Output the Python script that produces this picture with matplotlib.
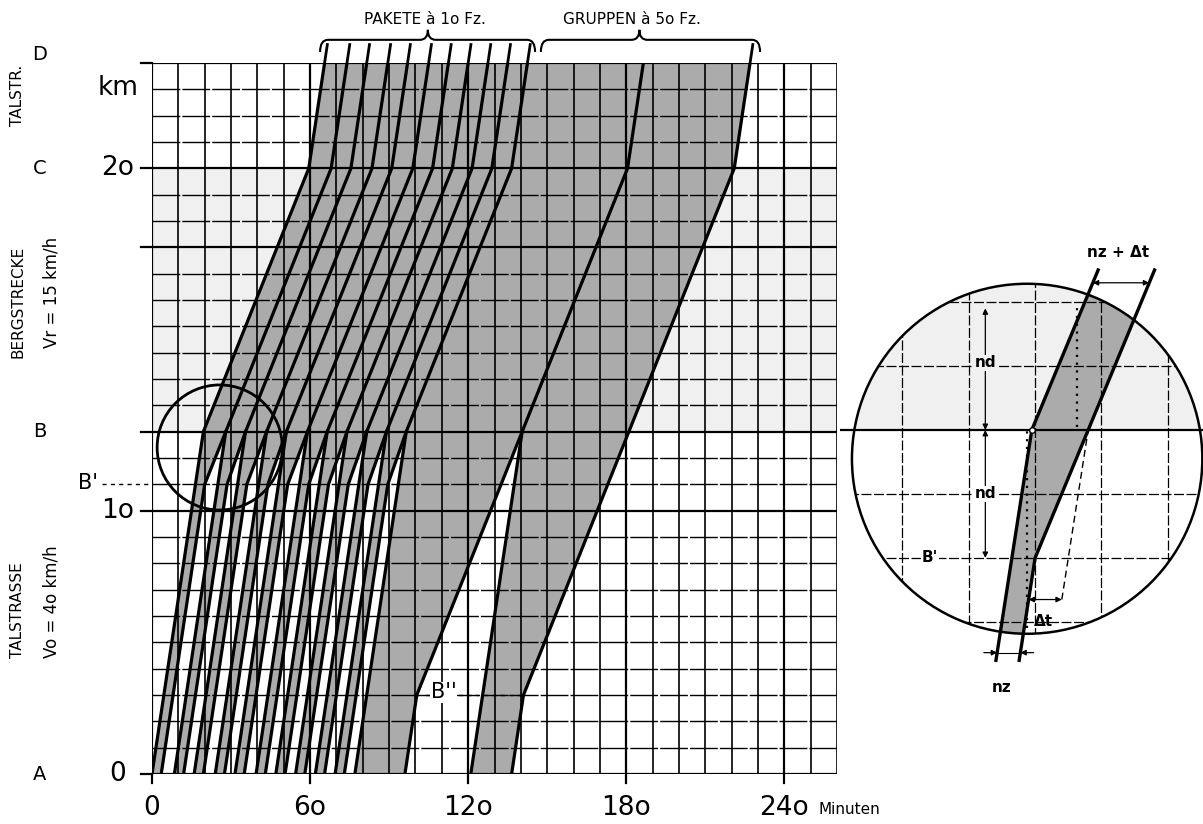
import numpy as np
import matplotlib.pyplot as plt
from matplotlib.patches import Ellipse, Polygon
from matplotlib.path import Path
import matplotlib.patches as mpatches

plt.rcParams['font.family'] = ['DejaVu Sans']

# sections of the road (km, as drawn on the grid)
Y_A, Y_B2, Y_B1, Y_B, Y_C, Y_D = 0, 3, 11, 13, 23, 27
PACE_TAL = 1.5    # min per km, Vo = 40 km/h
PACE_BERG = 4.0   # min per km, Vr = 15 km/h

# departure of the first car of each packet (min, at A)
packet_start = [0, 8.5, 16, 24, 31.5, 39.5, 47, 54.5, 62, 69.5]
packet_width = 3.5          # nz at A
# groups of 50 vehicles: first and last car at A
group_start = [77, 121]
group_end = [96, 136.5]

x_ticks = [0, 60, 120, 180, 240]
x_labels = ['0', '6o', '12o', '18o', '24o']
y_ticks = [0, 10, 23]
y_labels = ['0', '1o', '2o']
sections = ['A', 'B', 'C', 'D']
section_y = [Y_A, Y_B, Y_C, Y_D]

W, H = 1203, 824
GRAY = '#ababab'
STIP = '#f0f0f0'


def lead_path(t0, yb=Y_B):
    t1 = t0 + PACE_TAL * yb
    t2 = t1 + PACE_BERG * (Y_C - yb)
    t3 = t2 + PACE_TAL * (Y_D - Y_C)
    return [t0, t1, t2, t3], [0, yb, Y_C, Y_D]


def tail_path(t0, yb, t_merge):
    # runs with Vo until the queue is reached, then onto the next leader at B
    return [t0, t0 + PACE_TAL * yb, t_merge], [0, yb, Y_B]


leads = packet_start + group_start
lead_paths = [lead_path(t) for t in leads]
tails = []
for k, t in enumerate(packet_start):
    tails.append(tail_path(t + packet_width, Y_B1, lead_paths[k + 1][0][1]))
tails.append(tail_path(group_end[0], Y_B2, lead_paths[-1][0][1]))
last_tail = lead_path(group_end[1], Y_B2)

fig = plt.figure(figsize=(W / 100, H / 100), dpi=100)
ax = fig.add_axes([152 / W, 1 - 774 / H, 685 / W, 711 / H])
ax.set_xlim(0, 260)
ax.set_ylim(0, 27)
ax.axis('off')

# mountain section, light stipple
ax.axhspan(Y_B, Y_C, color=STIP, zorder=0, lw=0)

# occupied area
lx, ly = lead_paths[0]
rx, ry = last_tail
ax.add_patch(Polygon(list(zip(lx, ly)) + list(zip(rx, ry))[::-1],
                     closed=True, fc=GRAY, ec='none', zorder=1))
# free gaps between packets / groups
for k, (tx, ty) in enumerate(tails):
    nx = lead_paths[k + 1][0][0]
    ax.add_patch(Polygon(list(zip(tx, ty)) + [(nx, 0)], closed=True,
                         fc='white', ec='none', zorder=2))

# grid
for t in range(0, 261, 10):
    ax.plot([t, t], [0, 27], color='k', lw=1.6 if t % 60 == 0 else 1.2, zorder=3)
for y in range(0, 28):
    strong = y in (0, 10, 13, 20, 23, 27)
    ax.plot([0, 260], [y, y], color='k', lw=1.6 if strong else 1.0,
            ls='-' if strong else (0, (20, 1.5)), zorder=3)
for t in x_ticks:
    ax.plot([t, t], [-0.35, 0], color='k', lw=1.6, clip_on=False)
for y in (0, 10, 13, 20, 23, 27):
    ax.plot([-4, 0], [y, y], color='k', lw=1.6, clip_on=False)

# vehicle paths
for px_, py_ in lead_paths:
    ax.plot(px_, py_, color='k', lw=2.3, zorder=4)
for px_, py_ in tails:
    ax.plot(px_, py_, color='k', lw=2.3, zorder=4)
ax.plot(rx, ry, color='k', lw=2.3, zorder=4)
# short overruns above D, as drawn
for px_, py_ in lead_paths[:-1] + [last_tail]:
    ax.plot([px_[-1], px_[-1] + PACE_TAL * 0.7], [Y_D, Y_D + 0.7], color='k',
            lw=2.0, clip_on=False, zorder=4)

# B'' marker
b2x = [tails[-1][0][1], last_tail[0][1]]
ax.plot(b2x, [Y_B2, Y_B2], color='k', lw=1.0, ls=(0, (3, 3)), zorder=4)
ax.text(110.6, Y_B2 + 0.1, "B''", fontsize=15, ha='center', va='center', zorder=5,
        bbox=dict(fc='white', ec='none', pad=0.5))

# magnifier circle
ax.add_patch(Ellipse((25.7, 12.4), 47.5, 4.75, fill=False, ec='k', lw=2.0, zorder=5))

# B' reference
ax.plot([-19, 0], [Y_B1, Y_B1], color='k', lw=1.0, ls=(0, (3, 3)), clip_on=False)


def ftext(x, y, s, **kw):
    fig.text(x / W, 1 - y / H, s, ha=kw.pop('ha', 'center'), va=kw.pop('va', 'center'), **kw)


for t, lab in zip(x_ticks, x_labels):
    ftext(152 + t * 685 / 260, 808, lab, fontsize=19)
ftext(818, 810, 'Minuten', fontsize=11, ha='left')
for y, lab in zip(y_ticks, y_labels):
    ftext(118, 774 - y * 711 / 27, lab, fontsize=19)
ftext(118, 88, 'km', fontsize=19)
for s, y in zip(sections, section_y):
    ftext(40, 774 - y * 711 / 27 - (8 if s == 'D' else 0), s, fontsize=14)
ftext(88, 483, "B'", fontsize=15)

ftext(18, 95, 'TALSTR.', fontsize=11, rotation=90)
ftext(18, 302, 'BERGSTRECKE', fontsize=11, rotation=90)
ftext(52, 292, 'Vr = 15 km/h', fontsize=12, rotation=90)
ftext(18, 610, 'TALSTRASSE', fontsize=11, rotation=90)
ftext(52, 602, 'Vo = 4o km/h', fontsize=12, rotation=90)


def brace(x1, x2, xm):
    yb, yl, yt = 27.42, 27.88, 28.26
    verts = [(x1, yb), (x1, yl), (x1 + 3, yl), (xm - 3, yl), (xm, yl), (xm, yt),
             (xm, yl), (xm + 3, yl), (x2 - 3, yl), (x2, yl), (x2, yb)]
    codes = [Path.MOVETO, Path.CURVE3, Path.CURVE3, Path.LINETO, Path.CURVE3, Path.CURVE3,
             Path.CURVE3, Path.CURVE3, Path.LINETO, Path.CURVE3, Path.CURVE3]
    ax.add_patch(mpatches.PathPatch(Path(verts, codes), fc='none', ec='k', lw=1.5,
                                    clip_on=False))


brace(63.8, 145.4, 104.7)
brace(147.6, 230.8, 185.0)
ax.text(103.6, 28.65, 'PAKETE à 1o Fz.', fontsize=11, ha='center', va='center', clip_on=False)
ax.text(182.0, 28.65, 'GRUPPEN à 5o Fz.', fontsize=11, ha='center', va='center', clip_on=False)

# ---------- enlarged detail around B ----------
ax2 = fig.add_axes([840 / W, 1 - 700 / H, 363 / W, 470 / H])
ax2.set_xlim(-9.4, 45.3)
ax2.set_ylim(8.78, 16.125)
ax2.axis('off')
ring = Ellipse((18.8, 12.55), 52.8, 5.47, fill=False, ec='k', lw=1.8, zorder=6)
ax2.add_patch(ring)

st = ax2.axhspan(Y_B, 16.2, color=STIP, lw=0, zorder=0)
st.set_clip_path(ring)

l0x, l0y = lead_paths[0]
t0x, t0y = tails[0]
l1x, l1y = lead_paths[1]
band = list(zip(l0x, l0y)) + list(zip(l1x[1:], l1y[1:]))[::-1] + list(zip(t0x, t0y))[::-1]
bp = ax2.add_patch(Polygon(band, closed=True, fc=GRAY, ec='none', zorder=1))
bp.set_clip_path(ring)

for t in range(0, 50, 10):
    g, = ax2.plot([t, t], [8, 17], color='k', lw=0.9, ls=(0, (8, 2)), zorder=2)
    g.set_clip_path(ring)
for y in range(9, 17):
    if y == Y_B:
        continue
    g, = ax2.plot([-10, 46], [y, y], color='k', lw=0.9, ls=(0, (8, 2)), zorder=2)
    g.set_clip_path(ring)
ax2.plot([-9.4, 45.3], [Y_B, Y_B], color='k', lw=1.6, zorder=3)


def t_at(path, y):
    return float(np.interp(y, path[1], path[0]))


y_lo, y_hi = 9.4, 15.5
ys = [y_lo, Y_B, y_hi]
ax2.plot([t_at(lead_paths[0], y) for y in ys], ys, color='k', lw=2.4, zorder=4)
upper = (t0x[:-1] + l1x[1:], t0y[:-1] + l1y[1:])
ys = [y_lo, Y_B1, Y_B, y_hi]
ax2.plot([t_at(upper, y) for y in ys], ys, color='k', lw=2.4, zorder=4)
ax2.plot([t_at(lead_paths[1], 10.35), t_at(lead_paths[1], Y_B)], [10.35, Y_B],
         color='k', lw=1.0, ls=(0, (5, 3)), zorder=4)
ax2.plot([18.8, 18.8], [9.9, 13.0], color='k', lw=1.6, ls=(0, (1, 2.5)), zorder=4)
ax2.plot([26.3, 26.3], [13.05, 14.9], color='k', lw=1.6, ls=(0, (1, 2.5)), zorder=4)
ax2.plot([t_at(lead_paths[0], Y_B)], [Y_B], 'o', ms=4, mfc='white', mec='k', zorder=5)

arr = dict(arrowstyle='<|-|>', color='k', lw=0.9, mutation_scale=8, shrinkA=0, shrinkB=0)
ax2.annotate('', xy=(12.5, 14.9), xytext=(12.5, Y_B), arrowprops=arr)
ax2.annotate('', xy=(12.5, Y_B), xytext=(12.5, Y_B1), arrowprops=arr)
lab = dict(fontsize=11, fontweight='bold', ha='center', va='center')
ax2.text(12.5, 14.05, 'nd', bbox=dict(fc=STIP, ec='none', pad=0.5), **lab)
ax2.text(12.5, 12.0, 'nd', bbox=dict(fc='white', ec='none', pad=0.5), **lab)
ax2.text(4.2, Y_B1, "B'", bbox=dict(fc='white', ec='none', pad=0.5), **lab)

y_dt = 10.35
ax2.annotate('', xy=(t_at(upper, y_dt), y_dt), xytext=(t_at(lead_paths[1], y_dt), y_dt),
             arrowprops=arr)
ax2.text(21.2, 10.0, 'Δt', **lab)

# nz: arrowheads pointing inward from outside the two lines
y_nz = 9.52
left_nz, right_nz = t_at(lead_paths[0], y_nz), t_at(upper, y_nz)
one = dict(arrowstyle='-|>', color='k', lw=0.9, mutation_scale=8, shrinkA=0, shrinkB=0)
ax2.annotate('', xy=(left_nz, y_nz), xytext=(left_nz - 2.0, y_nz), arrowprops=one)
ax2.annotate('', xy=(right_nz, y_nz), xytext=(right_nz + 2.0, y_nz), arrowprops=one)
ax2.plot([left_nz, right_nz], [y_nz, y_nz], color='k', lw=0.8, zorder=4)
ax2.text(15.0, 8.97, 'nz', **lab)

y_top = 15.3
ax2.annotate('', xy=(t_at(lead_paths[0], y_top), y_top), xytext=(t_at(upper, y_top), y_top),
             arrowprops=arr)
ax2.text(32.5, 15.78, 'nz + Δt', **lab)

fig.savefig('out.png', dpi=100)
